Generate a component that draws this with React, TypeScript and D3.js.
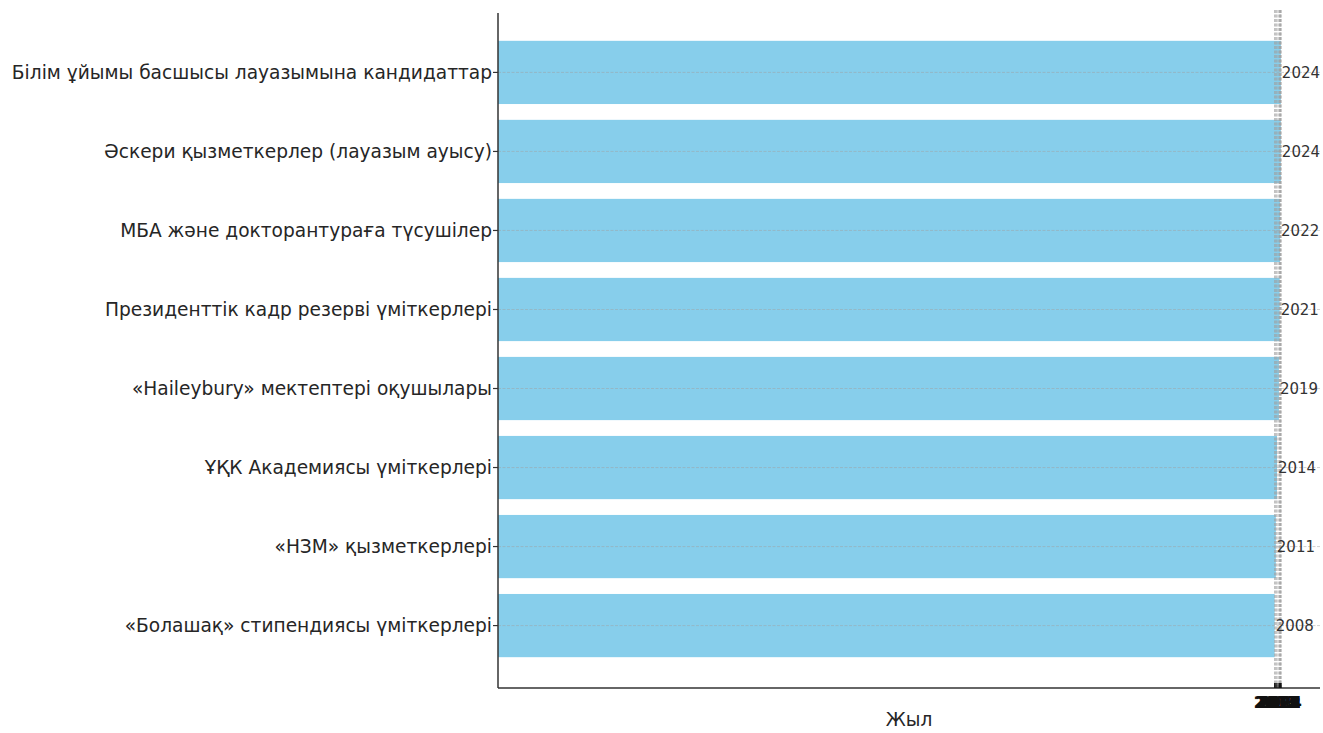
import React, { useRef, useEffect } from 'react';
import * as d3 from 'd3';

// categories bottom to top as in the source chart
const categories = [
    '«Болашақ» стипендиясы үміткерлері',
    '«НЗМ» қызметкерлері',
    'ҰҚК Академиясы үміткерлері',
    '«Haileybury» мектептері оқушылары',
    'Президенттік кадр резерві үміткерлері',
    'МБА және докторантураға түсушілер',
    'Әскери қызметкерлер (лауазым ауысу)',
    'Білім ұйымы басшысы лауазымына кандидаттар',
];
const years = [2008, 2011, 2014, 2019, 2021, 2022, 2024, 2024];
const xLabel = 'Жыл';

const W = 1323;
const H = 733;
const margin = { top: 10, right: 3, bottom: 45, left: 498 };
const FONT = '"DejaVu Sans", sans-serif';

const App: React.FC = () => {
    const svgRef = useRef<SVGSVGElement | null>(null);

    useEffect(() => {
        if (!svgRef.current) return;
        const svg = d3.select(svgRef.current);
        svg.selectAll('*').remove();

        const x0 = margin.left;
        const x1 = W - margin.right;
        const y0 = margin.top;
        const y1 = H - margin.bottom;

        const maxY = d3.max(years) ?? 0;
        const x = d3.scaleLinear().domain([0, maxY * 1.05]).range([x0, x1]);
        const n = categories.length;
        const pad = (n - 0.2) * 0.05 + 0.4;
        const y = d3
            .scaleLinear()
            .domain([-pad, n - 1 + pad])
            .range([y1, y0]);
        const bandH = (y(0) - y(1)) * 0.8;

        const g = svg.append('g').style('font-family', FONT);

        // bars
        g.selectAll('rect.bar')
            .data(years)
            .enter()
            .append('rect')
            .attr('class', 'bar')
            .attr('x', x(0))
            .attr('y', (_d, i) => y(i) - bandH / 2)
            .attr('width', (d) => x(d) - x(0))
            .attr('height', bandH)
            .attr('fill', '#87ceeb');

        // horizontal grid at categories
        g.selectAll('line.hgrid')
            .data(categories)
            .enter()
            .append('line')
            .attr('x1', x0)
            .attr('x2', x1)
            .attr('y1', (_d, i) => y(i))
            .attr('y2', (_d, i) => y(i))
            .attr('stroke', '#a0a0a0')
            .attr('stroke-opacity', 0.6)
            .attr('stroke-width', 0.8)
            .attr('stroke-dasharray', '3,1.5');

        // vertical grid at year ticks
        g.selectAll('line.vgrid')
            .data(years)
            .enter()
            .append('line')
            .attr('x1', (d) => x(d))
            .attr('x2', (d) => x(d))
            .attr('y1', y0)
            .attr('y2', y1)
            .attr('stroke', '#a0a0a0')
            .attr('stroke-opacity', 0.7)
            .attr('stroke-width', 1.2)
            .attr('stroke-dasharray', '3,1.5');

        // value labels
        g.selectAll('text.val')
            .data(years)
            .enter()
            .append('text')
            .attr('x', (d) => x(d) + 1)
            .attr('y', (_d, i) => y(i))
            .attr('dy', '0.35em')
            .attr('font-size', 15)
            .attr('fill', '#333')
            .text((d) => String(d));

        // spines
        g.append('line')
            .attr('x1', x0)
            .attr('x2', x0)
            .attr('y1', y0 + 3)
            .attr('y2', y1)
            .attr('stroke', '#333')
            .attr('stroke-width', 1.5);
        g.append('line')
            .attr('x1', x0)
            .attr('x2', x1)
            .attr('y1', y1)
            .attr('y2', y1)
            .attr('stroke', '#333')
            .attr('stroke-width', 1.5);

        // y ticks and labels
        categories.forEach((c, i) => {
            g.append('line')
                .attr('x1', x0 - 5)
                .attr('x2', x0)
                .attr('y1', y(i))
                .attr('y2', y(i))
                .attr('stroke', '#333')
                .attr('stroke-width', 1.2);
            g.append('text')
                .attr('x', x0 - 6)
                .attr('y', y(i))
                .attr('dy', '0.35em')
                .attr('text-anchor', 'end')
                .attr('font-size', 18.6)
                .attr('fill', '#262626')
                .text(c);
        });

        // x ticks and labels
        years.forEach((d) => {
            g.append('line')
                .attr('x1', x(d))
                .attr('x2', x(d))
                .attr('y1', y1)
                .attr('y2', y1 - 5)
                .attr('stroke', '#111')
                .attr('stroke-width', 1.2);
            g.append('text')
                .attr('x', x(d))
                .attr('y', y1 + 20)
                .attr('text-anchor', 'middle')
                .attr('font-size', 15)
                .attr('font-weight', 'bold')
                .attr('fill', '#111')
                .text(String(d));
        });

        g.append('text')
            .attr('x', (x0 + x1) / 2)
            .attr('y', H - 7)
            .attr('text-anchor', 'middle')
            .attr('font-size', 18.6)
            .attr('fill', '#262626')
            .text(xLabel);
    }, []);

    return (
        <svg
            ref={svgRef}
            width={W}
            height={H}
            style={{ position: 'absolute', left: 0, top: 0, background: '#fff' }}
        />
    );
};

export default App;
